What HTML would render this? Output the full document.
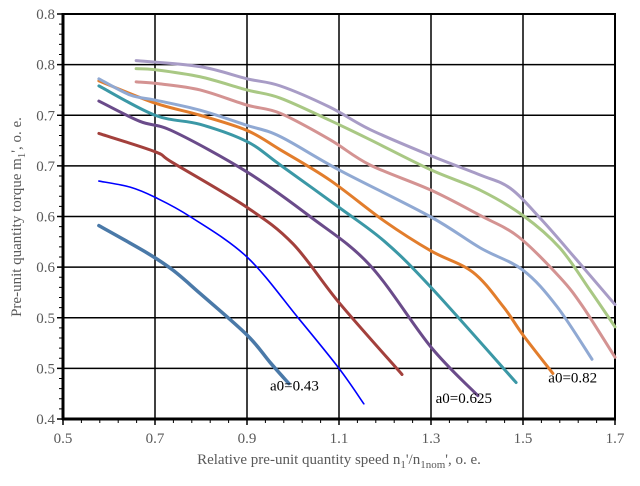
<!DOCTYPE html>
<html><head><meta charset="utf-8"><style>
body{margin:0;background:#fff;}
svg{display:block;font-family:"Liberation Serif",serif;}
</style></head><body>
<svg id="chart" width="640" height="486" viewBox="0 0 640 486" xmlns="http://www.w3.org/2000/svg"></svg>
<script>
const xTicks=[0.5,0.7,0.9,1.1,1.3,1.5,1.7];
const xTickLabels=["0.5","0.7","0.9","1.1","1.3","1.5","1.7"];
const yTicks=[0.4,0.45,0.5,0.55,0.6,0.65,0.7,0.75,0.8];
const yTickLabels=["0.4","0.5","0.5","0.6","0.6","0.7","0.7","0.8","0.8"];
const seriesColors=["#4a79a8","#0000ff","#a3403c","#6a4b8a","#3b98a6","#e27d2c","#90a9d3","#d49392","#a9c884","#a89cc6"];
const seriesWidths=[3.5,1.6,3,3,3,3,3,3,3,3];
const s1=[[0.578,0.591],[0.683,0.564],[0.739,0.547],[0.798,0.524],[0.9,0.483],[0.950,0.456],[0.991,0.435]];
const s2=[[0.578,0.635],[0.646,0.629],[0.70,0.619],[0.776,0.600],[0.9,0.560],[1.011,0.500],[1.1,0.450],[1.154,0.415]];
const s3=[[0.578,0.682],[0.70,0.664],[0.739,0.653],[0.9,0.609],[1.0,0.573],[1.1,0.515],[1.237,0.444]];
const s4=[[0.578,0.714],[0.667,0.694],[0.74,0.684],[0.9,0.644],[1.037,0.600],[1.167,0.552],[1.3,0.471],[1.402,0.423]];
const s5=[[0.578,0.729],[0.70,0.700],[0.798,0.691],[0.9,0.674],[0.972,0.651],[1.1,0.609],[1.2,0.575],[1.3,0.530],[1.485,0.436]];
const s6=[[0.578,0.734],[0.70,0.712],[0.798,0.700],[0.9,0.685],[0.972,0.666],[1.080,0.636],[1.2,0.595],[1.3,0.566],[1.391,0.545],[1.457,0.511],[1.5,0.483],[1.565,0.445]];
const s7=[[0.578,0.736],[0.646,0.720],[0.70,0.715],[0.798,0.705],[0.9,0.690],[0.972,0.679],[1.1,0.646],[1.298,0.600],[1.407,0.569],[1.5,0.547],[1.574,0.511],[1.65,0.459]];
const s8=[[0.659,0.733],[0.711,0.731],[0.798,0.725],[0.9,0.710],[0.972,0.702],[1.080,0.676],[1.167,0.651],[1.3,0.626],[1.407,0.601],[1.490,0.580],[1.580,0.540],[1.630,0.511],[1.7,0.461]];
const s9=[[0.659,0.746],[0.70,0.745],[0.798,0.738],[0.9,0.725],[0.972,0.717],[1.080,0.695],[1.167,0.676],[1.3,0.646],[1.407,0.626],[1.5,0.601],[1.580,0.569],[1.646,0.527],[1.7,0.491]];
const s10=[[0.659,0.754],[0.798,0.748],[0.9,0.736],[0.972,0.729],[1.080,0.708],[1.167,0.686],[1.3,0.660],[1.407,0.641],[1.472,0.628],[1.540,0.597],[1.617,0.557],[1.7,0.513]];
const allSeries=[s1,s2,s3,s4,s5,s6,s7,s8,s9,s10];
const annotations=[["a0=0.43",0.95,0.428],["a0=0.625",1.31,0.416],["a0=0.82",1.555,0.436]];

const L=63,R=615,T=14,B=419;
const X0=0.5,X1=1.7,Y0=0.4,Y1=0.8;
const xs=v=>L+(v-X0)/(X1-X0)*(R-L);
const ys=v=>B-(v-Y0)/(Y1-Y0)*(B-T);
const svg=document.getElementById('chart');
const NS="http://www.w3.org/2000/svg";
function mk(tag,attrs,parent){const e=document.createElementNS(NS,tag);for(const k in attrs)e.setAttribute(k,attrs[k]);(parent||svg).appendChild(e);return e;}

yTicks.forEach((t,i)=>{const g=mk('line',{x1:L,x2:R,y1:ys(t),y2:ys(t),stroke:'#000','stroke-width':1.5});

});
xTicks.forEach((t,i)=>{const g=mk('line',{x1:xs(t),x2:xs(t),y1:T,y2:B,stroke:'#000','stroke-width':1.5});

});
for(let i=0;i<xTicks.length-1;i++){for(let k=1;k<5;k++){const v=xTicks[i]+(xTicks[i+1]-xTicks[i])*k/5;
const m=mk('line',{x1:xs(v),x2:xs(v),y1:B,y2:B+4,stroke:'#000','stroke-width':1});

}}
for(let i=0;i<yTicks.length-1;i++){for(let k=1;k<5;k++){const v=yTicks[i]+(yTicks[i+1]-yTicks[i])*k/5;
const m=mk('line',{x1:L-4,x2:L,y1:ys(v),y2:ys(v),stroke:'#000','stroke-width':1});

}}
xTicks.forEach(t=>{const m=mk('line',{x1:xs(t),x2:xs(t),y1:B,y2:B+6,stroke:'#000','stroke-width':1.5});

});
yTicks.forEach(t=>{const m=mk('line',{x1:L-6,x2:L,y1:ys(t),y2:ys(t),stroke:'#000','stroke-width':1.5});

});
const fr=mk('rect',{x:L,y:T,width:R-L,height:B-T,fill:'none',stroke:'#000','stroke-width':2});


const ax1=mk('line',{x1:L,x2:L,y1:T-1,y2:B+1,stroke:'#000','stroke-width':3});


const ax2=mk('line',{x1:L-1,x2:R+1,y1:B,y2:B,stroke:'#000','stroke-width':3});


xTicks.forEach((t,i)=>{const e=mk('text',{x:xs(t),y:443,'text-anchor':'middle','font-size':15,fill:'#595959'});e.textContent=xTickLabels[i];

});
yTicks.forEach((t,i)=>{const e=mk('text',{x:55,y:ys(t)+5,'text-anchor':'end','font-size':15,fill:'#595959'});e.textContent=yTickLabels[i];

});
function pathFor(pts){const p=pts.map(d=>[xs(d[0]),ys(d[1])]);let s='M'+p[0][0]+','+p[0][1];
for(let i=0;i<p.length-1;i++){const p0=p[Math.max(0,i-1)],p1=p[i],p2=p[i+1],p3=p[Math.min(p.length-1,i+2)];
const c1x=p1[0]+(p2[0]-p0[0])/6,c1y=p1[1]+(p2[1]-p0[1])/6,c2x=p2[0]-(p3[0]-p1[0])/6,c2y=p2[1]-(p3[1]-p1[1])/6;
s+=` C${c1x},${c1y} ${c2x},${c2y} ${p2[0]},${p2[1]}`;}return s;}
allSeries.forEach((ser,i)=>{const e=mk('path',{d:pathFor(ser),fill:'none',stroke:seriesColors[i],'stroke-width':seriesWidths[i],'stroke-linecap':'round','stroke-linejoin':'round'});

});
annotations.forEach(a=>{const e=mk('text',{x:xs(a[1]),y:ys(a[2]),'font-size':15,fill:'#000'});e.textContent=a[0];

});
</script>
<svg style="position:absolute;left:0;top:0" width="640" height="486">
<text transform="translate(21,217) rotate(-90)" text-anchor="middle" font-family="Liberation Serif, serif" font-size="15" fill="#595959">Pre-unit quantity torque m<tspan font-size="11" dy="4">1</tspan><tspan dy="-4">', o. e.</tspan></text>
<text x="339" y="464" text-anchor="middle" font-family="Liberation Serif, serif" font-size="15" fill="#595959">Relative pre-unit quantity speed n<tspan font-size="11" dy="4">1</tspan><tspan dy="-4">'/n</tspan><tspan font-size="11" dy="4">1nom</tspan><tspan dy="-4">', o. e.</tspan></text>
</svg>
</body></html>
